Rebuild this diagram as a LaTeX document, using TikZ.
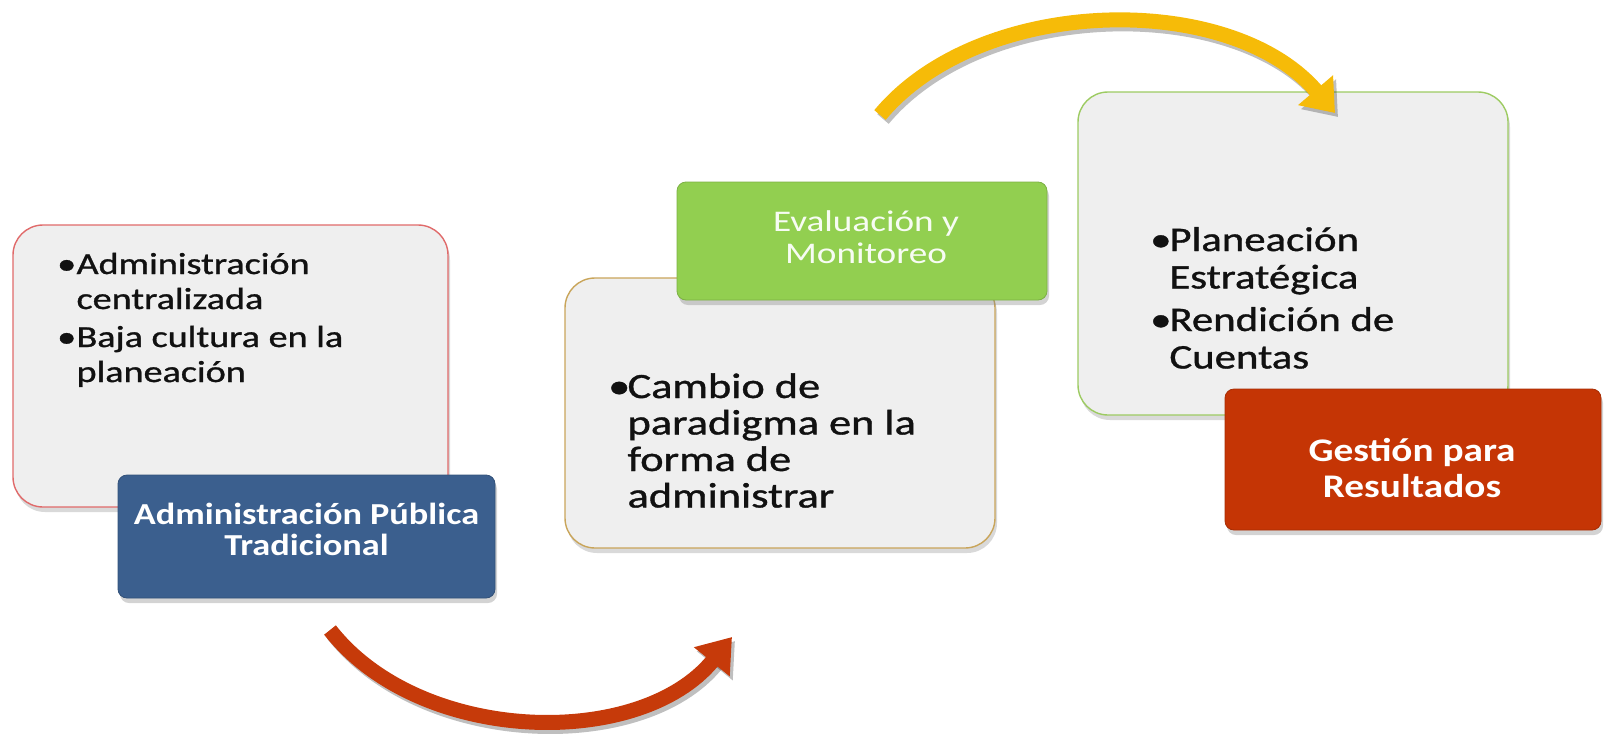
\documentclass[tikz,border=0pt]{standalone}
\usepackage{fontspec}
\setmainfont{Carlito}
\newfontfamily\bodyfont{Carlito}[FakeBold=0.9]
\usepackage{graphicx}
\usetikzlibrary{shadows,arrows.meta}
\definecolor{boxfill}{HTML}{EFEFEF}
\definecolor{bred}{HTML}{E06A6A}
\definecolor{bgold}{HTML}{C9A55A}
\definecolor{bgreen}{HTML}{9DCB62}
\definecolor{cblue}{HTML}{3B5F8E}
\definecolor{cgreen}{HTML}{92CF50}
\definecolor{cred}{HTML}{C53505}
\definecolor{ayellow}{HTML}{F6BB08}
\definecolor{ared}{HTML}{C63A0A}
\definecolor{txt}{HTML}{111111}
\newcommand\bul[1]{\makebox[#1][l]{\textbullet}}
\begin{document}
\begin{tikzpicture}[x=1pt,y=-1pt,
  lightbox/.style={draw=#1, line width=1.4pt, fill=boxfill, rounded corners=30pt,
    inner sep=0pt, drop shadow={opacity=0.3, shadow xshift=2pt, shadow yshift=-5pt}},
  colbox/.style={fill=#1, draw=#1!85!black, line width=0.8pt, rounded corners=9pt, inner sep=0pt,
    drop shadow={opacity=0.35, shadow xshift=2pt, shadow yshift=-5pt}},
  bodytext/.style={anchor=base west, inner sep=0pt, text=txt, font=\bodyfont},
  labeltext/.style={anchor=base, inner sep=0pt, text=white, font=\bfseries},
  arrowshadow/.style={draw=black, opacity=0.25, line width=15pt,
    transform canvas={shift={(3pt,-4pt)}}},
]
\useasboundingbox (0,0) rectangle (1604,742);

% left group
\node[lightbox=bred, minimum width=435pt, minimum height=282pt] (b1) at (230.5,366) {};
\node[colbox=cblue, minimum width=377pt, minimum height=123pt] (l1) at (306.5,536.5) {};
\node[bodytext] (t1) at (57,274) {\scalebox{1.25}[1]{\fontsize{30.5}{35}\selectfont
  \begin{tabular}[t]{@{}l@{}l@{}}\bul{15.5pt}&Administración\\ &centralizada\\[3pt]
  \bul{15.5pt}&Baja cultura en la\\ &planeación\end{tabular}}};
\node[labeltext] (tl1) at (306.5,524) {\scalebox{1.19}[1]{\fontsize{30.5}{31}\selectfont
  \begin{tabular}[t]{@{}c@{}}Administración Pública\\ Tradicional\end{tabular}}};

% middle group
\node[lightbox=bgold, minimum width=430pt, minimum height=270pt] (b2) at (780,413) {};
\node[colbox=cgreen, minimum width=370pt, minimum height=118pt] (l2) at (862,241) {};
\node[bodytext] (t2) at (608,398) {\scalebox{1.25}[1]{\fontsize{35.5}{36.5}\selectfont
  \begin{tabular}[t]{@{}l@{}l@{}}\bul{15.5pt}&Cambio de\\ &paradigma en la\\ &forma de\\ &administrar\end{tabular}}};
\node[labeltext, font=\mdseries, text=white!93!cgreen] (tl2) at (866,231) {\scalebox{1.24}[1]{\fontsize{30}{32}\selectfont
  \begin{tabular}[t]{@{}c@{}}Evaluación y\\ Monitoreo\end{tabular}}};

% right group
\node[lightbox=bgreen, minimum width=430pt, minimum height=323pt] (b3) at (1293,253.5) {};
\node[colbox=cred, minimum width=376pt, minimum height=141pt] (l3) at (1413,459.5) {};
\node[bodytext] (t3) at (1150,251) {\scalebox{1.24}[1]{\fontsize{34.5}{37.5}\selectfont
  \begin{tabular}[t]{@{}l@{}l@{}}\bul{15.5pt}&Planeación\\ &Estratégica\\[5pt]
  \bul{15.5pt}&Rendición de\\ &Cuentas\end{tabular}}};
\node[labeltext] (tl3) at (1412,461) {\scalebox{1.19}[1]{\fontsize{33}{36}\selectfont
  \begin{tabular}[t]{@{}c@{}}Gestión para\\ Resultados\end{tabular}}};

% arrows
\coordinate (ra-s) at (330,630);
\coordinate (ra-e) at (732,637);
\coordinate (ya-s) at (880,115);
\coordinate (ya-e) at (1335,113);
\draw[arrowshadow, -{Triangle[length=32pt,width=44pt]}] (ra-s) .. controls (420,745) and (640,750) .. (ra-e);
\draw[draw=ared, line width=15pt, -{Triangle[length=32pt,width=44pt]}] (ra-s) .. controls (420,745) and (640,750) .. (ra-e);
\draw[arrowshadow, -{Triangle[length=30pt,width=44pt]}] (ya-s) .. controls (980,-5) and (1230,-10) .. (ya-e);
\draw[draw=ayellow, line width=15pt, -{Triangle[length=30pt,width=44pt]}] (ya-s) .. controls (980,-5) and (1230,-10) .. (ya-e);
\end{tikzpicture}
\end{document}
